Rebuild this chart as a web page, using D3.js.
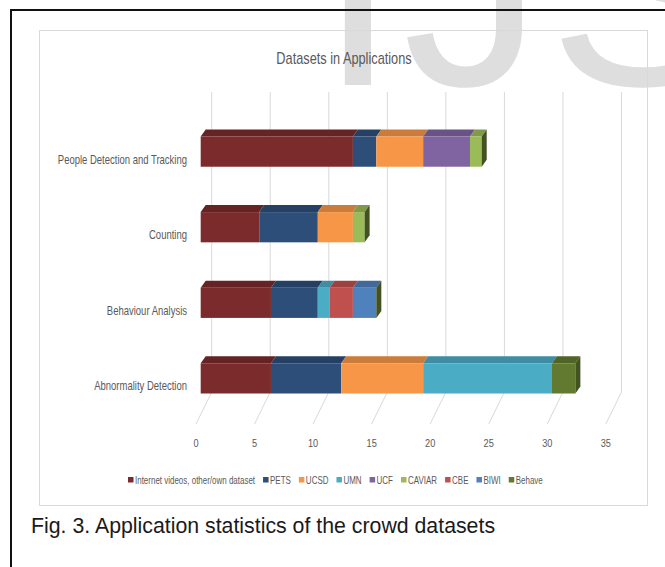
<!DOCTYPE html>
<html>
<head>
<meta charset="utf-8">
<script src="https://cdn.jsdelivr.net/npm/d3@7/dist/d3.min.js"></script>
<style>
body{margin:0;background:#fff;}
svg{display:block;}
</style>
</head>
<body>
<svg id="chart" width="665" height="567"></svg>
<script>
// data
var categories = ['People Detection and Tracking','Counting','Behaviour Analysis','Abnormality Detection'];
var seriesNames = ['Internet videos, other/own dataset','PETS','UCSD','UMN','UCF','CAVIAR','CBE','BIWI','Behave'];
var internetVals = [13,5,6,6];
var petsVals     = [2,5,4,6];
var ucsdVals     = [4,3,0,7];
var umnVals      = [0,0,1,11];
var ucfVals      = [4,0,0,0];
var caviarVals   = [1,1,0,0];
var cbeVals      = [0,0,2,0];
var biwiVals     = [0,0,2,0];
var behaveVals   = [0,0,0,2];
var tickValues = [0,5,10,15,20,25,30,35];

var seriesVals = [internetVals,petsVals,ucsdVals,umnVals,ucfVals,caviarVals,cbeVals,biwiVals,behaveVals];
var colors = ['#7b2b2b','#2d4e78','#f79646','#4bacc6','#8064a2','#9bbb59','#c0504d','#4f81bd','#617a30'];

var svg = d3.select('#chart');
var sans = '"Liberation Sans",Arial,sans-serif';
var textGrey = '#595959';

// the chart font is a condensed one, squeeze regular text to get it
var narrowText = function(parent, str, x, y, size, anchor, sx){
    return parent.append('text').text(str)
        .attr('transform','translate('+x+','+y+') scale('+sx+',1)')
        .attr('text-anchor',anchor).attr('font-family',sans).attr('font-size',size)
        .attr('fill',textGrey);
}

// watermark behind everything
svg.append('text').text('IJS').attr('x',319).attr('y',85)
    .attr('font-family',sans).attr('font-size',280).attr('letter-spacing',6)
    .attr('fill','#dedede');

// page frame and chart box
svg.append('rect').attr('x',11).attr('y',10).attr('width',700).attr('height',600)
    .attr('fill','none').attr('stroke','#111').attr('stroke-width',2);
svg.append('rect').attr('x',39.5).attr('y',30.5).attr('width',608).attr('height',475)
    .attr('fill','none').attr('stroke','#d9d9d9').attr('stroke-width',1);

narrowText(svg,'Datasets in Applications',344,64,17,'middle',0.75);

// scales: x is the bar front face, y the bands of the bars
var x = d3.scaleLinear().domain([0,35]).range([200.7,610.5]);
var y = d3.scaleBand().domain(categories).range([136.5,393.5]).paddingInner(0.6).paddingOuter(0);
var depth = [5,-7];          // shift of the top / side faces
var backOff = 11, floorOff = -4.7;
var wallTop = 92, wallBottom = 392, floorFront = 424;

// gridlines on the back wall folding onto the floor
var grid = svg.append('g').attr('id','grid');
tickValues.forEach(function(v){
    var xb = x(v)+backOff, xf = x(v)+floorOff;
    grid.append('path')
        .attr('d','M '+xb+' '+wallTop+' L '+xb+' '+wallBottom+' L '+xf+' '+floorFront)
        .attr('fill','none').attr('stroke','#d9d9d9').attr('stroke-width',1);
    narrowText(grid,v,xf,447,11.5,'middle',0.8);
});

// category labels
var labels = svg.append('g').attr('id','labels');
categories.forEach(function(c){
    narrowText(labels,c,187,y(c)+y.bandwidth()/2+12,13,'end',0.73);
});

// 3d stacked bars
var stack = d3.stack().keys(d3.range(seriesNames.length))
    .value(function(d,k){ return seriesVals[k][d]; });
var layers = stack(d3.range(categories.length));

var bars = svg.append('g').attr('id','bars');
var bh = y.bandwidth();
layers.forEach(function(layer,k){
    var col = d3.color(colors[k]);
    layer.forEach(function(seg,i){
        if (seg[1]-seg[0] <= 0) return;
        var x0 = x(seg[0]), x1 = x(seg[1]), yt = y(categories[i]);
        bars.append('path')
            .attr('d','M '+x0+' '+yt+' L '+(x0+depth[0])+' '+(yt+depth[1])+' L '+(x1+depth[0])+' '+(yt+depth[1])+' L '+x1+' '+yt+' Z')
            .attr('fill',col.darker(0.55));
        bars.append('rect').attr('x',x0).attr('y',yt).attr('width',x1-x0).attr('height',bh)
            .attr('fill',col);
    });
});
// right end face belongs to the last series of each stack
var last = layers[layers.length-1];
last.forEach(function(seg,i){
    var xe = x(seg[1]), yt = y(categories[i]);
    bars.append('path')
        .attr('d','M '+xe+' '+yt+' L '+(xe+depth[0])+' '+(yt+depth[1])+' L '+(xe+depth[0])+' '+(yt+bh+depth[1])+' L '+xe+' '+(yt+bh)+' Z')
        .attr('fill',d3.color(colors[colors.length-1]).darker(1.1));
});

// legend
var legend = svg.append('g').attr('id','legend');
var lx = 128, lsx = 0.76;
seriesNames.forEach(function(name,k){
    legend.append('rect').attr('x',lx).attr('y',477).attr('width',5.5).attr('height',5.5).attr('fill',colors[k]);
    var t = narrowText(legend,name,lx+7,483.5,10.5,'start',lsx);
    lx += 7 + t.node().getComputedTextLength()*lsx + 8;
});

svg.append('text').text('Fig. 3. Application statistics of the crowd datasets')
    .attr('x',31).attr('y',533).attr('font-family',sans)
    .attr('font-size',21.3).attr('fill','#1a1a1a');
</script>
</body>
</html>
